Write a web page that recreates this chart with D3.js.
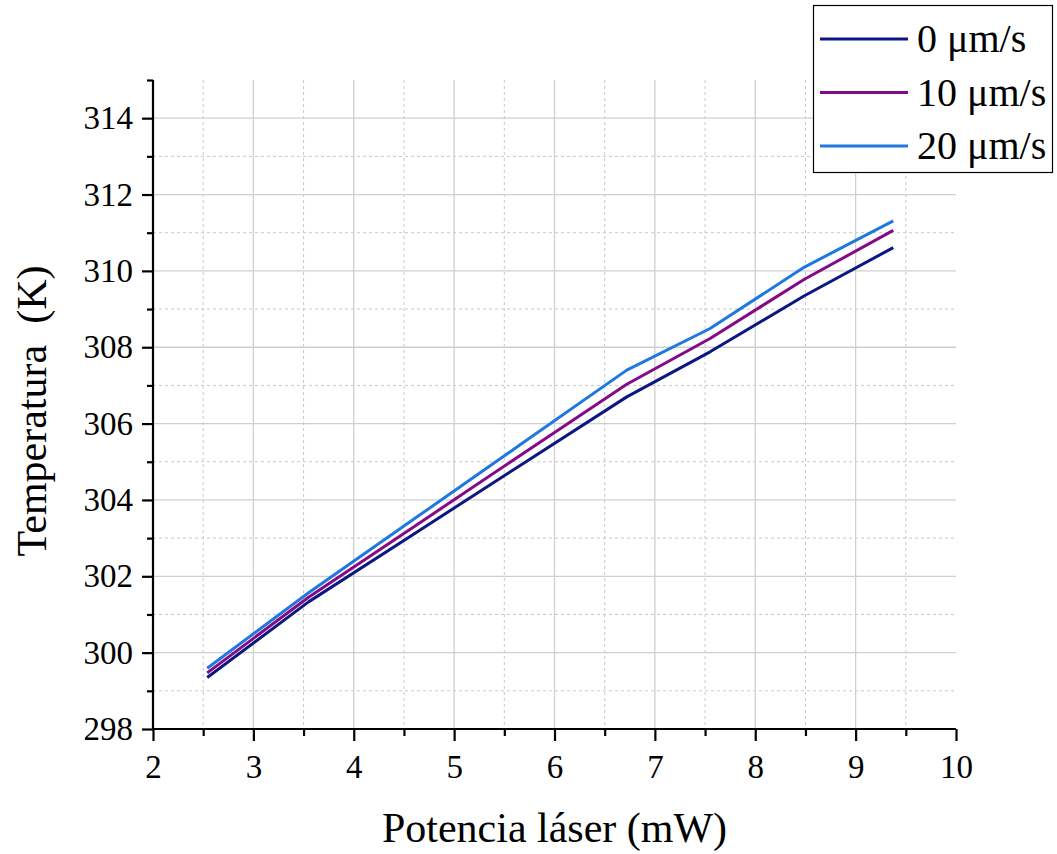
<!DOCTYPE html>
<html><head><meta charset="utf-8">
<script src="https://cdn.jsdelivr.net/npm/d3@7"></script>
<style>body{margin:0;background:#fff}svg{display:block}
text{font-family:"Liberation Serif","Times New Roman",serif !important;fill:#000}</style>
</head><body>
<svg id="chart" width="1057" height="854"></svg>
<script>
const power = [2.54, 3.55, 4.6, 5.65, 6.72, 7.55, 8.49, 9.375];
const temp0  = [299.35, 301.33, 303.11, 304.89, 306.70, 307.88, 309.35, 310.61];
const temp10 = [299.47, 301.45, 303.30, 305.15, 307.03, 308.23, 309.78, 311.06];
const temp20 = [299.59, 301.57, 303.50, 305.43, 307.40, 308.49, 310.10, 311.31];
const seriesNames = ["0 \u03bcm/s", "10 \u03bcm/s", "20 \u03bcm/s"];
const seriesColors = ["#0c1882", "#860a86", "#1f78e0"];
const xTicks = [2,3,4,5,6,7,8,9,10];
const yTicks = [298,300,302,304,306,308,310,312,314];

const svg = d3.select("#chart");
const L=153, R=956, T=80, B=729;
const x = d3.scaleLinear().domain([2,10]).range([L,R]);
const y = d3.scaleLinear().domain([298,315]).range([B,T]);
const font = "Liberation Serif";

// grid
const g = svg.append("g");
const xMinor = d3.range(2.5,10,1);
const yMinor = d3.range(299,315,2);
g.selectAll(".vmin").data(xMinor).join("line")
 .attr("x1",d=>x(d)).attr("x2",d=>x(d)).attr("y1",T).attr("y2",B)
 .attr("stroke","#c8c8c8").attr("stroke-width",1).attr("stroke-dasharray","3,3");
g.selectAll(".hmin").data(yMinor).join("line")
 .attr("y1",d=>y(d)).attr("y2",d=>y(d)).attr("x1",L).attr("x2",R)
 .attr("stroke","#c8c8c8").attr("stroke-width",1).attr("stroke-dasharray","3,3");
g.selectAll(".vmaj").data(xTicks.filter(d=>d>2&&d<10)).join("line")
 .attr("x1",d=>x(d)).attr("x2",d=>x(d)).attr("y1",T).attr("y2",B)
 .attr("stroke","#cfcfcf").attr("stroke-width",1.3);
g.selectAll(".hmaj").data(yTicks.filter(d=>d>298)).join("line")
 .attr("y1",d=>y(d)).attr("y2",d=>y(d)).attr("x1",L).attr("x2",R)
 .attr("stroke","#cfcfcf").attr("stroke-width",1.3);

// lines
const allSeries = [temp0, temp10, temp20];
const line = d3.line().x((d,i)=>x(power[i])).y(d=>y(d));
allSeries.forEach((s,k)=>{
  svg.append("path").datum(s).attr("d",line).attr("fill","none")
    .attr("stroke",seriesColors[k]).attr("stroke-width",3).attr("stroke-linejoin","round");
});

// axes
const xAxis = svg.append("g").attr("transform",`translate(0,${B})`)
  .call(d3.axisBottom(x).tickValues(xTicks).tickSize(12).tickPadding(14).tickFormat(d3.format("d")));
svg.append("g").attr("transform",`translate(0,${B})`)
  .call(d3.axisBottom(x).tickValues(xMinor).tickSize(7).tickFormat(""))
  .call(a=>a.select(".domain").remove());
const yAxis = svg.append("g").attr("transform",`translate(${L},0)`)
  .call(d3.axisLeft(y).tickValues(yTicks).tickSize(11).tickPadding(9).tickFormat(d3.format("d")));
svg.append("g").attr("transform",`translate(${L},0)`)
  .call(d3.axisLeft(y).tickValues(d3.range(299,316,2)).tickSize(6).tickFormat(""))
  .call(a=>a.select(".domain").remove());
svg.selectAll("g").attr("font-family",font);
svg.selectAll(".domain").attr("stroke","#000").attr("stroke-width",2.2);
svg.selectAll(".tick line").attr("stroke","#000").attr("stroke-width",2.2);
svg.selectAll(".tick text").attr("font-family",font).attr("font-size",33).attr("fill","#000");
xAxis.select(".domain").attr("d",`M${L},0H${R}`);
yAxis.select(".domain").attr("d",`M0,${T}V${B}`);

// titles
svg.append("text").attr("x",(L+R)/2).attr("y",842).attr("text-anchor","middle")
  .attr("font-family",font).attr("font-size",42).text("Potencia láser (mW)");
svg.append("text").attr("transform",`translate(46,411) rotate(-90)`).attr("text-anchor","middle")
  .attr("font-family",font).attr("font-size",42).attr("xml:space","preserve").text("Temperatura  (K)");

// legend
const lg = svg.append("g");
lg.append("rect").attr("x",813.5).attr("y",5.5).attr("width",239).attr("height",167)
  .attr("fill","#fff").attr("stroke","#000").attr("stroke-width",1.2);
seriesNames.forEach((n,k)=>{
  const yy = 39 + k*53.5;
  lg.append("line").attr("x1",820).attr("x2",908).attr("y1",yy).attr("y2",yy)
    .attr("stroke",seriesColors[k]).attr("stroke-width",3);
  lg.append("text").attr("x",917).attr("y",yy+13).attr("font-family",font)
    .attr("font-size",40).text(n);
});
</script>
</body></html>
